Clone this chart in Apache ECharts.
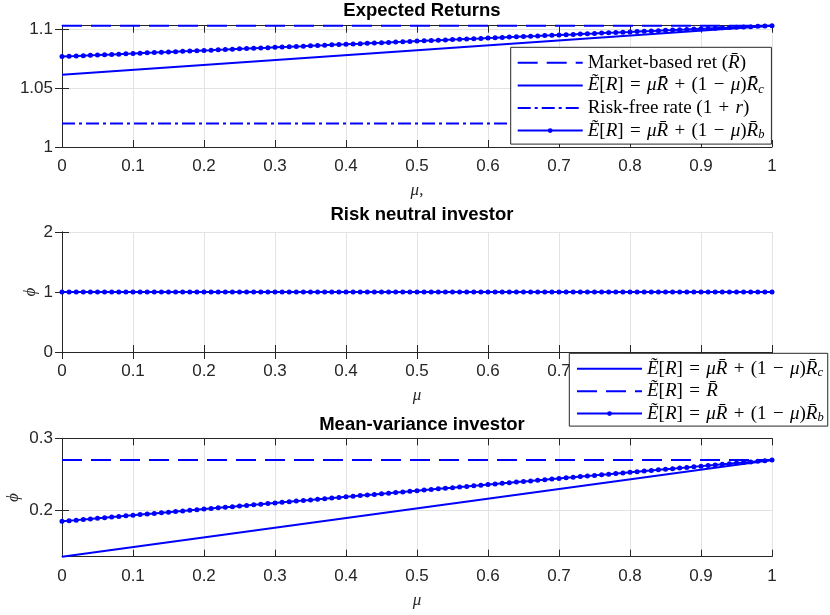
<!DOCTYPE html>
<html>
<head>
<meta charset="utf-8">
<script src="https://cdn.jsdelivr.net/npm/echarts@6/dist/echarts.min.js"></script>
<style>
  html, body { margin: 0; padding: 0; background: #fff; }
  #chart { width: 830px; height: 615px; }
</style>
</head>
<body>
<div id="chart"></div>
<script>
// ---- data ----
// weight on the market-based return
const muGrid = [0, 0.01, 0.02, 0.03, 0.04, 0.05, 0.06, 0.07, 0.08, 0.09,
  0.10, 0.11, 0.12, 0.13, 0.14, 0.15, 0.16, 0.17, 0.18, 0.19,
  0.20, 0.21, 0.22, 0.23, 0.24, 0.25, 0.26, 0.27, 0.28, 0.29,
  0.30, 0.31, 0.32, 0.33, 0.34, 0.35, 0.36, 0.37, 0.38, 0.39,
  0.40, 0.41, 0.42, 0.43, 0.44, 0.45, 0.46, 0.47, 0.48, 0.49,
  0.50, 0.51, 0.52, 0.53, 0.54, 0.55, 0.56, 0.57, 0.58, 0.59,
  0.60, 0.61, 0.62, 0.63, 0.64, 0.65, 0.66, 0.67, 0.68, 0.69,
  0.70, 0.71, 0.72, 0.73, 0.74, 0.75, 0.76, 0.77, 0.78, 0.79,
  0.80, 0.81, 0.82, 0.83, 0.84, 0.85, 0.86, 0.87, 0.88, 0.89,
  0.90, 0.91, 0.92, 0.93, 0.94, 0.95, 0.96, 0.97, 0.98, 0.99, 1];
const muEnds = [0, 1];

// Expected returns
const retMarket = [1.1032, 1.1032];
const retC = [1.0615, 1.1032];
const retRiskFree = [1.02, 1.02];
const retB = [1.0769, 1.0772, 1.0774, 1.0777, 1.0780, 1.0782, 1.0785, 1.0787, 1.0790, 1.0793,
  1.0795, 1.0798, 1.0801, 1.0803, 1.0806, 1.0808, 1.0811, 1.0814, 1.0816, 1.0819,
  1.0822, 1.0824, 1.0827, 1.0829, 1.0832, 1.0835, 1.0837, 1.0840, 1.0843, 1.0845,
  1.0848, 1.0851, 1.0853, 1.0856, 1.0858, 1.0861, 1.0864, 1.0866, 1.0869, 1.0872,
  1.0874, 1.0877, 1.0879, 1.0882, 1.0885, 1.0887, 1.0890, 1.0893, 1.0895, 1.0898,
  1.0901, 1.0903, 1.0906, 1.0908, 1.0911, 1.0914, 1.0916, 1.0919, 1.0922, 1.0924,
  1.0927, 1.0929, 1.0932, 1.0935, 1.0937, 1.0940, 1.0943, 1.0945, 1.0948, 1.0950,
  1.0953, 1.0956, 1.0958, 1.0961, 1.0964, 1.0966, 1.0969, 1.0972, 1.0974, 1.0977,
  1.0979, 1.0982, 1.0985, 1.0987, 1.0990, 1.0993, 1.0995, 1.0998, 1.1000, 1.1003,
  1.1006, 1.1008, 1.1011, 1.1014, 1.1016, 1.1019, 1.1021, 1.1024, 1.1027, 1.1029, 1.1032];

// Risk neutral investor
const phiNeutralC = [1, 1];
const phiNeutralEq = [1, 1];
const phiNeutralB = [1, 1, 1, 1, 1, 1, 1, 1, 1, 1, 1, 1, 1, 1, 1, 1, 1, 1, 1, 1,
  1, 1, 1, 1, 1, 1, 1, 1, 1, 1, 1, 1, 1, 1, 1, 1, 1, 1, 1, 1,
  1, 1, 1, 1, 1, 1, 1, 1, 1, 1, 1, 1, 1, 1, 1, 1, 1, 1, 1, 1,
  1, 1, 1, 1, 1, 1, 1, 1, 1, 1, 1, 1, 1, 1, 1, 1, 1, 1, 1, 1,
  1, 1, 1, 1, 1, 1, 1, 1, 1, 1, 1, 1, 1, 1, 1, 1, 1, 1, 1, 1, 1];

// Mean-variance investor
const phiMvC = [0.1349, 0.2697];
const phiMvEq = [0.2697, 0.2697];
const phiMvB = [0.1842, 0.1851, 0.1859, 0.1868, 0.1876, 0.1885, 0.1893, 0.1902, 0.1910, 0.1919,
  0.1928, 0.1936, 0.1945, 0.1953, 0.1962, 0.1970, 0.1979, 0.1987, 0.1996, 0.2004,
  0.2013, 0.2022, 0.2030, 0.2039, 0.2047, 0.2056, 0.2064, 0.2073, 0.2081, 0.2090,
  0.2099, 0.2107, 0.2116, 0.2124, 0.2133, 0.2141, 0.2150, 0.2158, 0.2167, 0.2175,
  0.2184, 0.2193, 0.2201, 0.2210, 0.2218, 0.2227, 0.2235, 0.2244, 0.2252, 0.2261,
  0.2270, 0.2278, 0.2287, 0.2295, 0.2304, 0.2312, 0.2321, 0.2329, 0.2338, 0.2346,
  0.2355, 0.2364, 0.2372, 0.2381, 0.2389, 0.2398, 0.2406, 0.2415, 0.2423, 0.2432,
  0.2441, 0.2449, 0.2458, 0.2466, 0.2475, 0.2483, 0.2492, 0.2500, 0.2509, 0.2517,
  0.2526, 0.2535, 0.2543, 0.2552, 0.2560, 0.2569, 0.2577, 0.2586, 0.2594, 0.2603,
  0.2612, 0.2620, 0.2629, 0.2637, 0.2646, 0.2654, 0.2663, 0.2671, 0.2680, 0.2688, 0.2697];

// tick values
const xTicks = [0, 0.1, 0.2, 0.3, 0.4, 0.5, 0.6, 0.7, 0.8, 0.9, 1];
const yTicksRet = [1, 1.05, 1.1];
const yTicksNeutral = [0, 1, 2];
const yTicksMv = [0.2, 0.3];

const titles = ['Expected Returns', 'Risk neutral investor', 'Mean-variance investor'];

// ---- helpers ----
const BLUE = '#0000ff';
const AXIS = '#262626';
const GRID = '#e3e3e3';
const SANS = 'Liberation Sans';
const SERIF = 'Liberation Serif';

const pairs = (xs, ys) => xs.map((x, i) => [x, ys[i]]);

const mathRich = {
  rm: { fontFamily: SERIF, fontSize: 19, color: '#000', lineHeight: 20 },
  it: { fontFamily: SERIF, fontStyle: 'italic', fontSize: 19, color: '#000', lineHeight: 20 },
  sub: { fontFamily: SERIF, fontStyle: 'italic', fontSize: 12.5, color: '#000', lineHeight: 12, padding: [8, 0, 0, 0] }
};

const RBAR = 'R\u0304';
const ETIL = 'E\u0303';
const SP = ' \u200a';   // operator spacing
const blend = (s) => '{it|' + ETIL + '}{rm|[}{it|R}{rm|]' + SP + '=' + SP + '}{it|\u03bc' + RBAR + '}{rm|' + SP + '+' + SP + '(1' + SP + '\u2212' + SP + '}{it|\u03bc}{rm|)}{it|' + RBAR + '}{sub|' + s + '}';
const legendText = {
  mkt: '{rm|Market-based ret (}{it|' + RBAR + '}{rm|)}',
  rc: blend('c'),
  rf: '{rm|Risk-free rate (1' + SP + '+' + SP + '}{it|r}{rm|)}',
  rb: blend('b'),
  rc2: blend('c'),
  eq2: '{it|' + ETIL + '}{rm|[}{it|R}{rm|]' + SP + '=' + SP + '}{it|' + RBAR + '}',
  rb2: blend('b')
};

const gridBoxes = [
  { left: 62, width: 710, top: 25.7, height: 121.3 },
  { left: 62, width: 710, top: 232, height: 120 },
  { left: 62, width: 710, top: 438.3, height: 118.4 }
];

const xAxes = [];
const yAxes = [];
const yLimits = [[1, 1.1032], [0, 2], [0.1349, 0.3]];
const yTickSets = [yTicksRet, yTicksNeutral, yTicksMv];
const xNames = ['{it|\u03bc}{rm|,}', '{it|\u03bc}', '{it|\u03bc}'];
const yNames = ['', '{it|\u03d5}', '{it|\u03d5}'];
const yNameGaps = [30, 23, 40];

const axisNameRich = {
  it: { fontFamily: SERIF, fontStyle: 'italic', fontSize: 17, color: AXIS },
  rm: { fontFamily: SERIF, fontSize: 17, color: AXIS }
};

gridBoxes.forEach((g, i) => {
  const tickStyle = { inside: true, length: 7, lineStyle: { color: AXIS, width: 1 } };
  const lineStyle = { show: true, lineStyle: { color: AXIS, width: 1 } };
  xAxes.push({
    type: 'value', gridIndex: i, position: 'bottom', min: 0, max: 1,
    axisLine: lineStyle,
    axisTick: Object.assign({ customValues: xTicks }, tickStyle),
    axisLabel: { customValues: xTicks, margin: 11, fontFamily: SANS, fontSize: 17, color: AXIS },
    splitLine: { show: true, customValues: xTicks, lineStyle: { color: GRID, width: 1 } },
    name: xNames[i], nameLocation: 'middle', nameGap: 35, nameMoveOverlap: false,
    nameTextStyle: { rich: axisNameRich }
  });
  xAxes.push({
    type: 'value', gridIndex: i, position: 'top', min: 0, max: 1,
    axisLine: lineStyle,
    axisTick: Object.assign({ customValues: xTicks }, tickStyle),
    axisLabel: { show: false },
    splitLine: { show: false }
  });
  yAxes.push({
    type: 'value', gridIndex: i, position: 'left', min: yLimits[i][0], max: yLimits[i][1],
    axisLine: lineStyle,
    axisTick: Object.assign({ customValues: yTickSets[i] }, tickStyle),
    axisLabel: { customValues: yTickSets[i], margin: 9, fontFamily: SANS, fontSize: 17, color: AXIS, padding: [3, 0, 0, 0] },
    splitLine: { show: true, customValues: yTickSets[i], lineStyle: { color: GRID, width: 1 } },
    name: yNames[i], nameLocation: 'middle', nameGap: yNameGaps[i], nameMoveOverlap: false,
    nameTextStyle: { rich: axisNameRich }
  });
  yAxes.push({
    type: 'value', gridIndex: i, position: 'right', min: yLimits[i][0], max: yLimits[i][1],
    axisLine: lineStyle,
    axisTick: Object.assign({ customValues: yTickSets[i] }, tickStyle),
    axisLabel: { show: false },
    splitLine: { show: false }
  });
});

const DASH = [20, 9];
const DASHDOT = [13, 4, 3, 4];

function lineSeries(name, panel, xs, ys, type, withDots) {
  return {
    name: name, type: 'line',
    xAxisIndex: panel * 2, yAxisIndex: panel * 2,
    data: pairs(xs, ys),
    symbol: withDots ? 'circle' : 'none',
    symbolSize: 5,
    showSymbol: !!withDots,
    itemStyle: { color: BLUE },
    lineStyle: { color: BLUE, width: 2, type: type },
    clip: false,
    silent: true,
    animation: false
  };
}

const series = [
  lineSeries('mkt', 0, muEnds, retMarket, DASH, false),
  lineSeries('rc', 0, muEnds, retC, 'solid', false),
  lineSeries('rf', 0, muEnds, retRiskFree, DASHDOT, false),
  lineSeries('rb', 0, muGrid, retB, 'solid', true),

  lineSeries('rc2', 1, muEnds, phiNeutralC, 'solid', false),
  lineSeries('eq2', 1, muEnds, phiNeutralEq, DASH, false),
  lineSeries('rb2', 1, muGrid, phiNeutralB, 'solid', true),

  lineSeries('rc2', 2, muEnds, phiMvC, 'solid', false),
  lineSeries('eq2', 2, muEnds, phiMvEq, DASH, false),
  lineSeries('rb2', 2, muGrid, phiMvB, 'solid', true)
];

const noMarker = { color: 'rgba(0,0,0,0)', borderWidth: 0 };
const legendBase = {
  orient: 'vertical',
  itemWidth: 65,
  itemHeight: 6,
  borderColor: AXIS,
  borderWidth: 1,
  backgroundColor: '#fff',
  selectedMode: false,
  formatter: (name) => legendText[name],
  textStyle: { rich: mathRich }
};

const option = {
  animation: false,
  backgroundColor: '#fff',
  title: titles.map((t, i) => ({
    text: t,
    left: 417, textAlign: 'center',
    top: [-4, 200.5, 410][i],
    padding: 5,
    textStyle: { fontFamily: SANS, fontWeight: 'bold', fontSize: 18.5, color: '#000' }
  })),
  grid: gridBoxes.map(g => Object.assign({ containLabel: false, outerBoundsMode: 'none' }, g)),
  xAxis: xAxes,
  yAxis: yAxes,
  legend: [
    Object.assign({}, legendBase, {
      left: 510.7, top: 47.3, padding: [6, 7, 3, 6], itemGap: 2.6,
      data: [
        { name: 'mkt', itemStyle: noMarker },
        { name: 'rc', itemStyle: noMarker },
        { name: 'rf', itemStyle: noMarker },
        { name: 'rb' }
      ]
    }),
    Object.assign({}, legendBase, {
      left: 569.3, top: 353.3, padding: [5, 4, 2, 6.7], itemGap: 2.4,
      data: [
        { name: 'rc2', itemStyle: noMarker },
        { name: 'eq2', itemStyle: noMarker },
        { name: 'rb2' }
      ]
    })
  ],
  series: series
};

const chart = echarts.init(document.getElementById('chart'), null, { renderer: 'canvas' });
chart.setOption(option);
</script>
</body>
</html>
